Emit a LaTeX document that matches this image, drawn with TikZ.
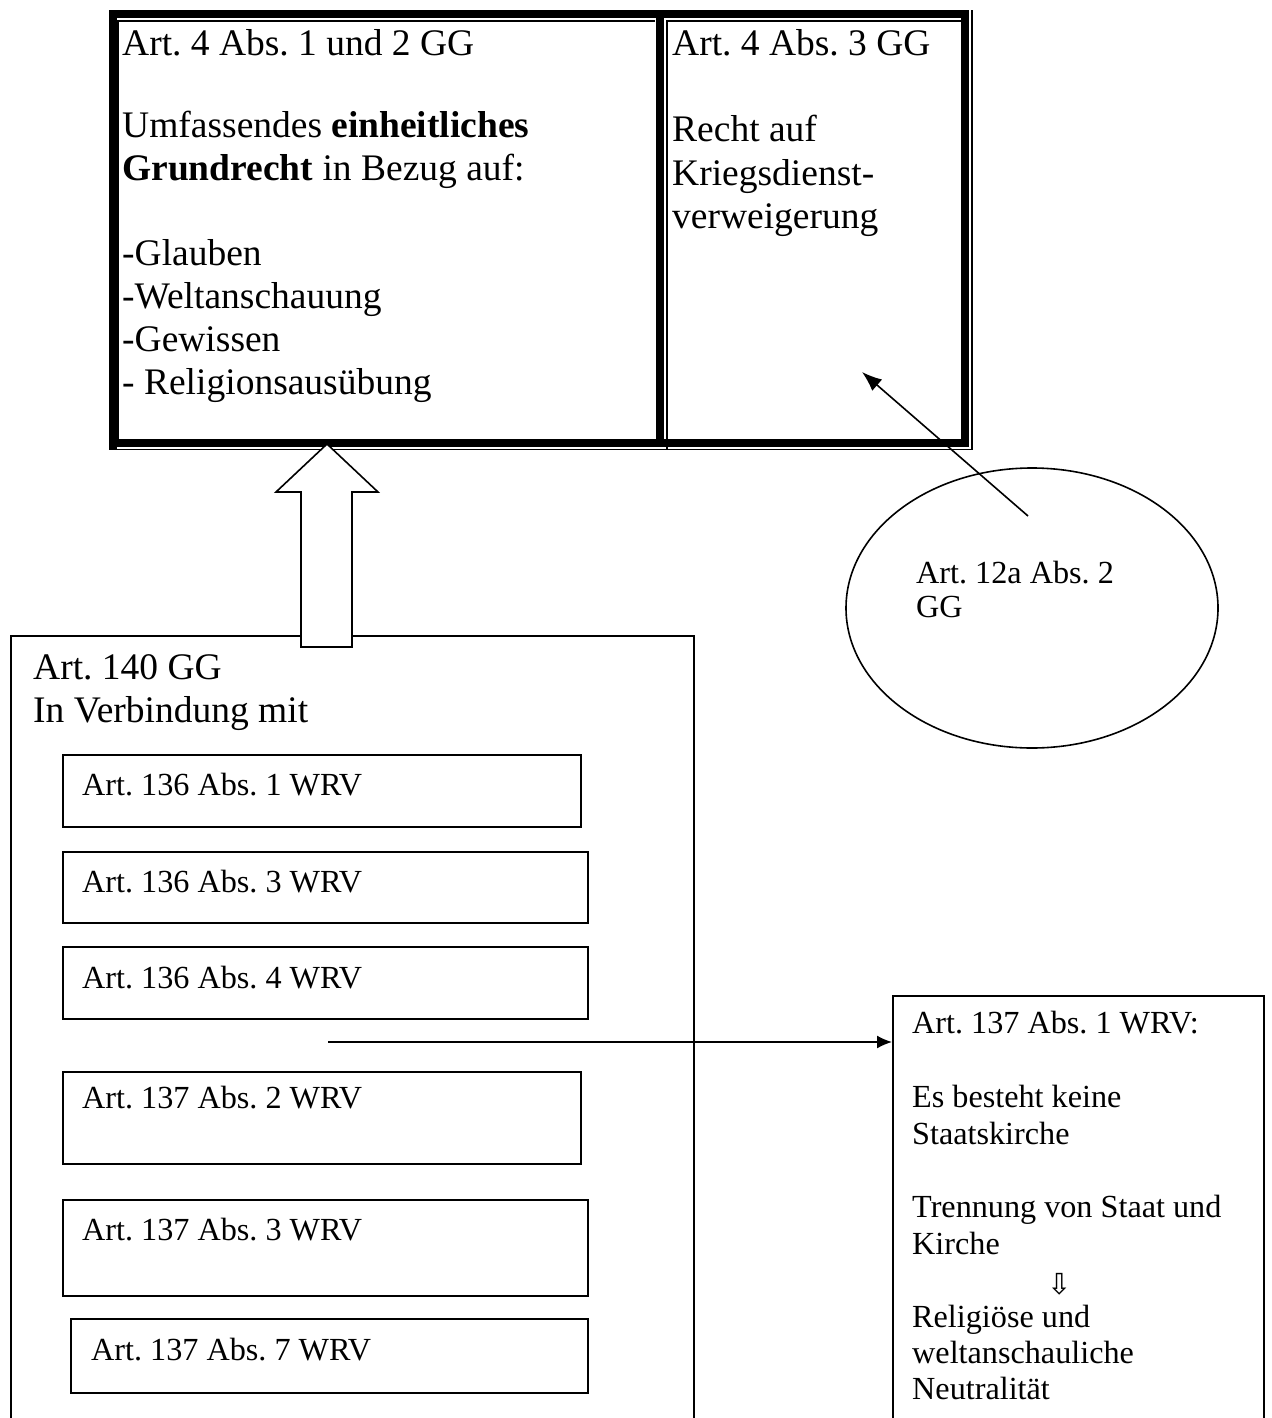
\documentclass[tikz,border=0pt]{standalone}
\usepackage{fontspec}
\setmainfont{Liberation Serif}
\newfontfamily\symfont{DejaVu Sans}
\usetikzlibrary{arrows.meta,shapes.geometric}
\frenchspacing
\begin{document}
\begin{tikzpicture}[x=1pt,y=-1pt,
  big/.style={font=\fontsize{37.5}{43}\selectfont, anchor=base west, inner sep=0pt},
  small/.style={font=\fontsize{32.2}{36.5}\selectfont, anchor=base west, inner sep=0pt},
  box/.style={draw, line width=1.6pt, anchor=north west, inner sep=0pt},
  thick band/.style={line width=8pt},
  thin band/.style={line width=1.3pt},
  conn/.style={line width=1.6pt},
]
\useasboundingbox (0,0) rectangle (1271,1418);

% ---------- top table ----------
\draw[thin band] (117,449.5) -- (972,449.5) -- (972,10);
\draw[thin band] (118,445) -- (118,21) -- (655,21);
\draw[thin band] (667,449.5) -- (667,21) -- (961,21);
\draw[thick band] (113,14) rectangle (965,443);
\fill (109,443) rectangle (117,450);
\draw[thick band] (660,14) -- (660,443);
\node[big] (t1) at (122,56) {Art. 4 Abs. 1 und 2 GG};
\node[big] (t2) at (122,137) {Umfassendes \textbf{einheitliches}};
\node[big] (t3) at (122,180) {\textbf{Grundrecht} in Bezug auf:};
\node[big] (t4) at (122,265) {-Glauben};
\node[big] (t5) at (122,308) {-Weltanschauung};
\node[big] (t6) at (122,351) {-Gewissen};
\node[big] (t7) at (122,394) {- Religionsausübung};

\node[big] (r1) at (672,56) {Art. 4 Abs. 3 GG};
\node[big] (r2) at (672,142) {Recht auf};
\node[big] (r3) at (672,185) {Kriegsdienst-};
\node[big] (r4) at (672,228) {verweigerung};

% ---------- lower left box ----------
\node[box, minimum width=683pt, minimum height=900pt] (main) at (10,635) {};
\node[big] (m1) at (33,679) {Art. 140 GG};
\node[big] (m2) at (33,722) {In Verbindung mit};

\node[box, minimum width=518pt, minimum height=72pt] (b1) at (62,754) {};
\node[small] (b1t) at (82,795) {Art. 136 Abs. 1 WRV};
\node[box, minimum width=525pt, minimum height=71pt] (b2) at (62,851) {};
\node[small] (b2t) at (82,892) {Art. 136 Abs. 3 WRV};
\node[box, minimum width=525pt, minimum height=72pt] (b3) at (62,946) {};
\node[small] (b3t) at (82,988) {Art. 136 Abs. 4 WRV};
\node[box, minimum width=518pt, minimum height=92pt] (b4) at (62,1071) {};
\node[small] (b4t) at (82,1108) {Art. 137 Abs. 2 WRV};
\node[box, minimum width=525pt, minimum height=96pt] (b5) at (62,1199) {};
\node[small] (b5t) at (82,1240) {Art. 137 Abs. 3 WRV};
\node[box, minimum width=517pt, minimum height=74pt] (b6) at (70,1318) {};
\node[small] (b6t) at (91,1360) {Art. 137 Abs. 7 WRV};

% ---------- block arrow ----------
\draw[line width=1.6pt, fill=white, line join=miter]
  (327,444) -- (378,492) -- (352,492) -- (352,647) -- (301,647) -- (301,492) -- (276,492) -- cycle;

% ---------- right box ----------
\node[box, minimum width=371pt, minimum height=500pt] (rb) at (892,995) {};
\node[small] (rb1) at (912,1033) {Art. 137 Abs. 1 WRV:};
\node[small] (rb2) at (912,1107) {Es besteht keine};
\node[small] (rb3) at (912,1144) {Staatskirche};
\node[small] (rb4) at (912,1217) {Trennung von Staat und};
\node[small] (rb5) at (912,1254) {Kirche};
\node[font=\symfont\fontsize{29}{30}\selectfont, inner sep=0pt] (rbarr) at (1060,1284) {⇩};
\node[small] (rb6) at (912,1327) {Religiöse und};
\node[small] (rb7) at (912,1363) {weltanschauliche};
\node[small] (rb8) at (912,1399) {Neutralität};

% ---------- ellipse ----------
\node[draw, ellipse, line width=1.6pt, minimum width=372pt, minimum height=280pt, inner sep=0pt] (ell) at (1032,608) {};
\node[small] (e1) at (916,583) {Art. 12a Abs. 2};
\node[small] (e2) at (916,617) {GG};

% ---------- connectors ----------
\coordinate (hs) at (328,1042);
\draw[conn, -{Latex[length=15pt,width=13pt]}] (hs) -- (hs -| rb.west);
\coordinate (ds) at (1028,516);
\coordinate (dt) at (862,372);
\draw[conn, -{Latex[length=20pt,width=15pt]}] (ds) -- (dt);
\end{tikzpicture}
\end{document}
